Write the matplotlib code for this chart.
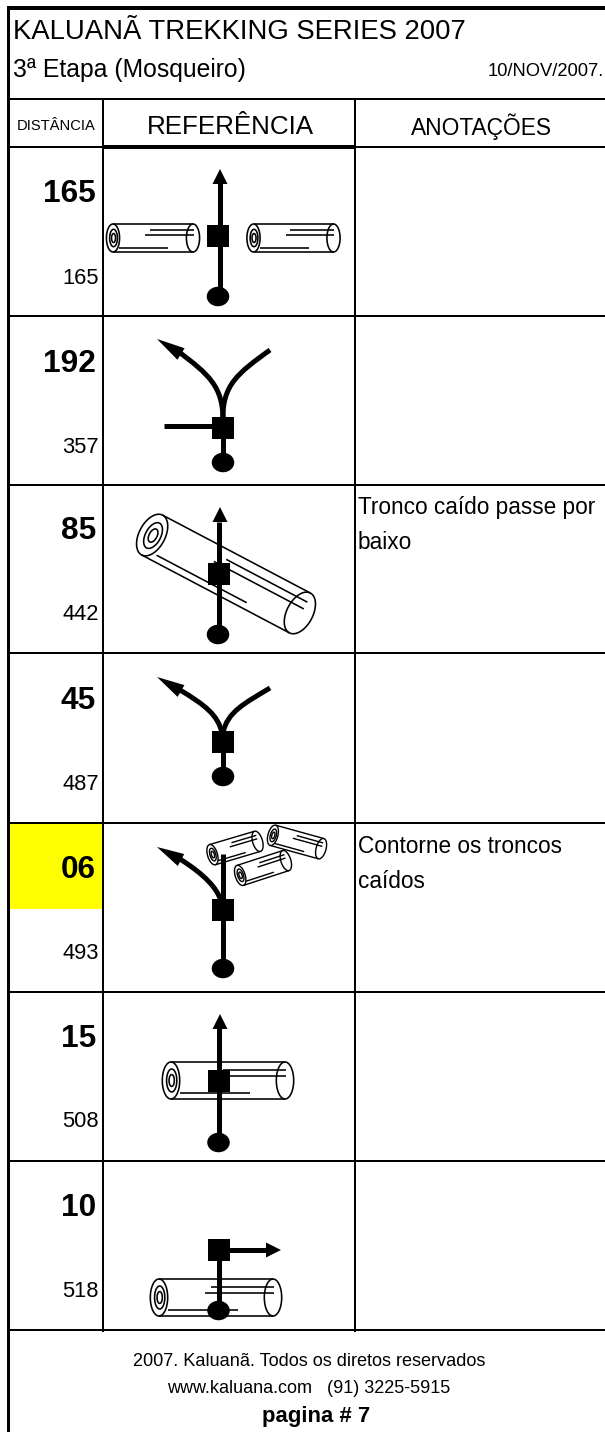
import numpy as np
import matplotlib
matplotlib.use("Agg")
import matplotlib.pyplot as plt
from matplotlib.patches import Polygon, Rectangle, Ellipse, PathPatch
from matplotlib.path import Path

# ---------- table content ----------
partial = ["165", "192", "85", "45", "06", "15", "10"]
cumulative = ["165", "357", "442", "487", "493", "508", "518"]
notes = {2: ["Tronco caído passe por", "baixo"], 4: ["Contorne os troncos", "caídos"]}
title = "KALUANÃ TREKKING SERIES 2007"
subtitle = "3ª Etapa (Mosqueiro)"
date_text = "10/NOV/2007."
headers = ["DISTÂNCIA", "REFERÊNCIA", "ANOTAÇÕES"]
footer = ["2007. Kaluanã. Todos os diretos reservados", "www.kaluana.com   (91) 3225-5915", "pagina # 7"]

W, H = 605, 1432
SANS = "Liberation Sans"

fig = plt.figure(figsize=(W / 100, H / 100), dpi=100)
ax = fig.add_axes([0, 0, 1, 1])
ax.set_xlim(0, W)
ax.set_ylim(H, 0)
ax.axis("off")
PX = 72 / 100  # points per pixel


def rect(x0, y0, x1, y1, color="black", z=2):
    ax.add_patch(Rectangle((x0, y0), x1 - x0, y1 - y0, fc=color, ec="none", zorder=z))


def line(pts, w=5, z=4, cap="butt"):
    xs, ys = zip(*pts)
    ax.plot(xs, ys, color="black", lw=w * PX, solid_capstyle=cap, zorder=z)


def head(tip, base, hw):
    t, b = np.array(tip, float), np.array(base, float)
    d = (t - b) / np.linalg.norm(t - b)
    n = np.array([-d[1], d[0]])
    ax.add_patch(Polygon([t, b + n * hw, b - n * hw], fc="black", ec="none", zorder=5))


def curve(p0, c1, c2, p1, w=5):
    ax.add_patch(PathPatch(Path([p0, c1, c2, p1], [Path.MOVETO, Path.CURVE4, Path.CURVE4, Path.CURVE4]),
                           fc="none", ec="black", lw=w * PX, zorder=4, capstyle="butt"))


def node(cx, top):
    rect(cx - 11, top, cx + 11, top + 22, z=6)


def dot(cx, top):
    ax.add_patch(Ellipse((cx, top + 9.5), 22.5, 19.5, fc="black", ec="none", zorder=6))


def log(cx, cy, L, D, angle, lw=1.6, rr=0.235, z=3):
    """Cylinder drawn in its own frame, then rotated about its centre."""
    a = np.deg2rad(angle)
    R = np.array([[np.cos(a), -np.sin(a)], [np.sin(a), np.cos(a)]])

    def tf(u, v):
        return (R @ np.vstack([u, v])).T + np.array([cx, cy])

    th = np.linspace(0, 2 * np.pi, 80)
    rx = D * rr

    def stroke(u, v, w=lw):
        p = tf(np.atleast_1d(u), np.atleast_1d(v))
        ax.plot(p[:, 0], p[:, 1], color="black", lw=w * PX, zorder=z, solid_capstyle="butt")

    ax.fill(*tf(L / 2 * np.array([-1, 1, 1, -1]), D / 2 * np.array([-1, -1, 1, 1])).T, color="white", zorder=z - 0.5)
    for s in (-1, 1):
        stroke(L / 2 * s + rx * np.cos(th), D / 2 * np.sin(th))
    for r in (0.62, 0.32):
        stroke(-L / 2 + rx * r * 0.95 * np.cos(th) + rx * 0.08, D / 2 * r * np.sin(th), lw)
    stroke(np.array([-L / 2, L / 2]), np.array([-D / 2, -D / 2]))
    stroke(np.array([-L / 2, L / 2]), np.array([D / 2, D / 2]))
    stroke(np.array([-0.04, 0.51]) * L, np.array([-0.29, -0.29]) * D)
    stroke(np.array([-0.10, 0.51]) * L, np.array([-0.12, -0.12]) * D)
    stroke(np.array([-0.42, 0.19]) * L, np.array([0.35, 0.35]) * D)


def txt(x, y, s, size, ha="left", weight="normal"):
    ax.text(x, y, s, fontsize=size * PX, ha=ha, va="baseline", fontweight=weight,
            family=SANS, color="black", zorder=8)


# ---------- grid ----------
row_lines = [146, 316, 485, 653, 823, 992, 1161, 1330]
rect(8, 824, 102, 909, "#ffff00", z=1)
rect(6.7, 6, 10, H)
rect(6.7, 6, W, 10)
rect(6.7, 97.5, W, 99.5)
rect(102, 98, 104, 1332)
rect(353.5, 98, 355.5, 1332)
rect(6.7, 145.5, W, 147.5)
rect(102, 145, 355, 149)
for y in row_lines[1:]:
    rect(6.7, y - 1, W, y + 1)

# ---------- text ----------
txt(13, 39, title, 27.5)
txt(13, 76.5, subtitle, 24.8)
txt(603.5, 75.5, date_text, 18.4, ha="right")
txt(56, 129.5, headers[0], 14.7, ha="center")
txt(230.5, 134.5, headers[1], 26, ha="center")
txt(481, 134.5, headers[2], 22.8, ha="center")

big_base = [202, 372, 539, 709, 878, 1047, 1216]
small_base = [284, 453, 620, 790, 959, 1127, 1297]
for p, c, b, s in zip(partial, cumulative, big_base, small_base):
    txt(96, b, p, 31.6, ha="right", weight="bold")
    txt(99, s, c, 21.9, ha="right")
for i, ys in zip(notes, ([514, 549], [853, 888])):
    for y, s in zip(ys, notes[i]):
        txt(358, y, s, 22.6)

txt(309.5, 1366, footer[0], 18.1, ha="center")
txt(308.5, 1393, footer[1], 18.05, ha="center")
txt(316.5, 1422, footer[2], 22.2, ha="center", weight="bold")

# ---------- pictograms ----------
# Row 1
log(153, 238, 80, 28, 0)
log(293.5, 238, 80, 28, 0)
line([(220, 183), (220, 226)])
line([(219.5, 246), (219.5, 290)])
head((220, 169), (220, 184), 7.5)
node(218, 225)
dot(218, 287)

# Row 2
curve((223, 420), (223, 386), (208, 374), (179, 352))
curve((223, 420), (222, 385), (238, 373), (270, 350))
head((157, 339), (181, 354), 6.8)
line([(164, 426), (213, 426)])
line([(223, 438), (223, 456)])
node(223, 417)
dot(223, 453)

# Row 3
log(226, 574, 167, 45, 27.8, rr=0.29)
line([(219, 522), (219, 626)])
head((220, 507), (220, 522), 7.5)
node(218.5, 563)
dot(218, 625)

# Row 4
curve((222, 733), (218, 715), (205, 705), (180, 690))
curve((223, 733), (227, 712), (245, 703), (270, 688))
head((157, 677), (181, 691), 6.8)
line([(223, 752), (223, 770)])
node(223, 731)
dot(223, 767)

# Row 5
log(235, 848, 47, 21, -16.5, lw=1.4)
log(297, 842, 50, 21, 15.5, lw=1.4)
log(263, 868, 48, 21, -18, lw=1.4)
curve((221, 901), (217, 888), (205, 875), (180, 859))
head((157, 847), (181, 860), 6.8)
line([(223, 854), (223, 962)])
node(223, 899)
dot(223, 959)

# Row 6
log(228, 1080.5, 114, 37, 0)
line([(218.5, 1028), (218.5, 1135)])
head((220, 1014), (220, 1029), 7.5)
node(218.5, 1070)
dot(218.5, 1133)

# Row 7
log(216, 1297.5, 114, 37, 0)
line([(218.5, 1260), (218.5, 1303)])
line([(229, 1250), (267, 1250)])
head((281, 1250), (266, 1250), 7.5)
node(218.5, 1239)
dot(218.5, 1301)

fig.savefig("out.png", dpi=100)
